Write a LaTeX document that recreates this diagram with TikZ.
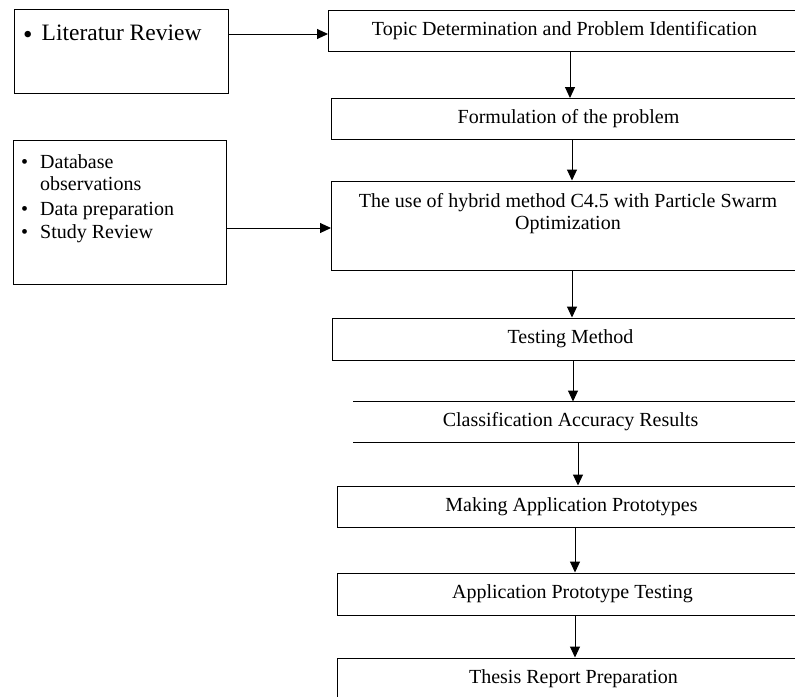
\documentclass[tikz,border=0pt]{standalone}
\usepackage{fontspec}
\setmainfont{Liberation Serif}
\usetikzlibrary{arrows.meta,positioning}

\begin{document}
\begin{tikzpicture}[x=1pt,y=-1pt,
    box/.style={draw,line width=1pt,anchor=west,minimum height=41pt,inner sep=0pt,font=\fontsize{20}{22}\selectfont},
    sidebox/.style={draw,line width=1pt,inner sep=0pt},
    txt/.style={inner sep=0pt,font=\fontsize{20}{22}\selectfont},
    flow/.style={-{Triangle[length=11pt,width=10pt]},line width=1pt}]
    \useasboundingbox (0,0) rectangle (795,696);
    \clip (0,0) rectangle (795,696);

    \node[sidebox,minimum width=214pt,minimum height=84pt] (lit) at (121,51) {};
    \node[txt,anchor=west,font=\fontsize{23.5}{26}\selectfont] (littext) at (23,34) {\raisebox{-2.5pt}{\fontsize{27}{26}\selectfont\textbullet}\hspace{9pt}Literatur Review};
    \node[sidebox,minimum width=213pt,minimum height=144pt] (data) at (119.5,212) {};
    \node[txt,anchor=north west] (datatext) at (21,153) {\begin{tabular}{@{}l@{\hspace{12pt}}l@{}}
        \textbullet & Database\\
        & observations\\[3pt]
        \textbullet & Data preparation\\[1pt]
        \textbullet & Study Review
    \end{tabular}};

    \node[box,minimum width=472pt] (topic) at (328,30.5) {Topic Determination and Problem Identification};
    \node[box,minimum width=474pt] (form) at (331,119) {Formulation of the problem};
    \node[box,minimum width=474pt,minimum height=89pt] (hyb) at (331,225.5) {};
    \node[txt,align=center] (hybtext) at (568,214) {The use of hybrid method C4.5 with Particle Swarm\\Optimization};
    \node[box,minimum width=476pt,minimum height=42pt] (test) at (332,339) {Testing Method};
    \node[box,draw=none,minimum width=434pt,minimum height=40pt] (cls) at (353,422) {Classification Accuracy Results};
    \draw[line width=1pt] (cls.north west) -- (cls.north west -| 805,0) (cls.south west) -- (cls.south west -| 805,0);
    \node[box,minimum width=468pt] (make) at (337,506.5) {Making Application Prototypes};
    \node[box,minimum width=470pt,minimum height=42pt] (app) at (337,594) {Application Prototype Testing};
    \node[box,minimum width=472pt] (thesis) at (337,678.5) {Thesis Report Preparation};

    \draw[flow] (lit.east |- 0,34) -- (topic.west |- 0,34);
    \draw[flow] (data.east |- 0,228) -- (hyb.west |- 0,228);
    \foreach \a/\b/\x in {topic/form/570,form/hyb/572,hyb/test/572,test/cls/573,cls/make/578,make/app/575,app/thesis/575}
        \draw[flow] (\a.south -| \x,0) -- (\b.north -| \x,0);
\end{tikzpicture}
\end{document}
